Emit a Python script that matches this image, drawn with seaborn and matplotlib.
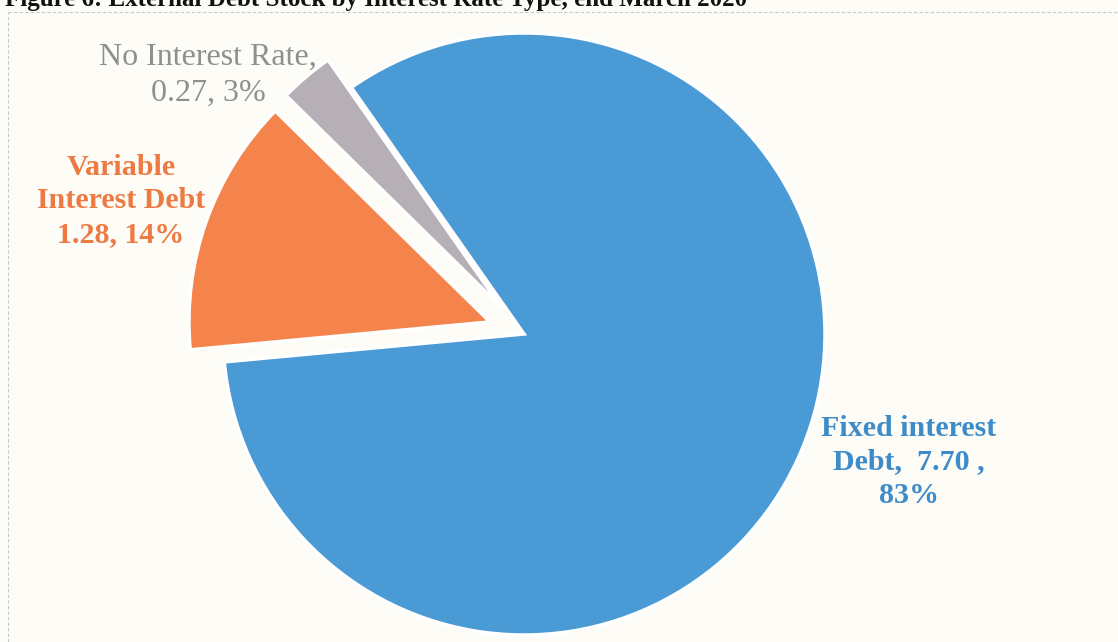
import matplotlib
matplotlib.use("Agg")
import matplotlib.pyplot as plt
import seaborn as sns
from matplotlib.lines import Line2D

# ---- data ----
categories = ["Fixed interest Debt", "Variable Interest Debt", "No Interest Rate"]
values = [7.70, 1.28, 0.27]
label_templates = [
    "Fixed interest\nDebt,  {v:.2f} ,\n{p:.0f}%",
    "Variable\nInterest Debt\n{v:.2f}, {p:.0f}%",
    "No Interest Rate,\n{v:.2f}, {p:.0f}%",
]
colors = ["#4a9ad6", "#f5844c", "#b6afb6"]
label_colors = ["#3d8bc8", "#ee7a43", "#8f8f8f"]
title = "Figure 6: External Debt Stock by Interest Rate Type, end March 2020"

sns.set_theme(style="white")
plt.rcParams["font.family"] = ["Liberation Serif", "DejaVu Serif"]

W, H, DPI = 1118, 642, 100
fig = plt.figure(figsize=(W / DPI, H / DPI), dpi=DPI)
bg = "#fdfcf6"
fig.patch.set_facecolor(bg)
ax = fig.add_axes([0, 0, 1, 1])
ax.set_facecolor(bg)

cx, cy, R = 524, 334, 301  # pixel centre and radius of pie

ax.pie(values, colors=colors, startangle=125, counterclock=False,
       explode=[0, 0.12, 0.12], radius=1,
       wedgeprops=dict(edgecolor="white", linewidth=2.5))
ax.set_xlim(-cx / R, (W - cx) / R)
ax.set_ylim(-(H - cy) / R, cy / R)
ax.set_aspect("auto")
ax.axis("off")

total = sum(values)
pos = [((909 - cx) / R, (cy - 462) / R),
       ((121 - cx) / R, (cy - 201) / R),
       ((208 - cx) / R, (cy - 75) / R)]
weights = ["bold", "bold", "normal"]
sizes = [21.6, 21.6, 23]
for tmpl, v, c, (x, y), w, s in zip(label_templates, values, label_colors, pos, weights, sizes):
    ax.text(x, y, tmpl.format(v=v, p=100 * v / total), color=c, fontsize=s,
            fontweight=w, ha="center", va="center", linespacing=1.32)

# chart border (dashed, faint) and clipped title
fig.add_artist(Line2D([8 / W, 1], [1 - 12 / H, 1 - 12 / H], transform=fig.transFigure,
                      color="#c8c8c8", lw=0.8, ls=(0, (3, 2))))
fig.add_artist(Line2D([8 / W, 8 / W], [0, 1 - 12 / H], transform=fig.transFigure,
                      color="#c8c8c8", lw=0.8, ls=(0, (3, 2))))
fig.text(5 / W, 1 - 6 / H, title, fontsize=18, fontweight="bold", color="#111111",
         ha="left", va="baseline")

fig.savefig("out.png", dpi=DPI, facecolor=bg)
